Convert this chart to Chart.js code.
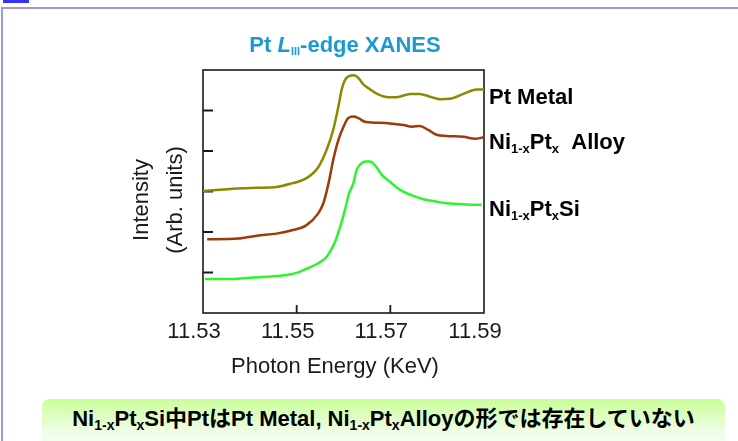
<!DOCTYPE html>
<html>
<head>
<meta charset="utf-8">
<script src="https://cdn.jsdelivr.net/npm/chart.js@4.4.1/dist/chart.umd.min.js"></script>
<style>
  html, body { margin: 0; padding: 0; background: #fff; }
  body { width: 738px; height: 441px; position: relative; overflow: hidden; font-family: "Liberation Sans", Arial, sans-serif; }
  #tab { position: absolute; left: 3px; top: 0; width: 26px; height: 3px; background: #3333ff; }
  #frame { position: absolute; left: 1px; top: 7px; width: 780px; height: 480px;
           border-top: 2px solid #9c9cd8; border-left: 2px solid #9c9cd8; }
  #wrap { position: absolute; left: 0; top: 0; width: 738px; height: 441px; }
  #note { position: absolute; left: 42px; top: 399px; width: 683px; height: 52px; border-radius: 8px;
          background: linear-gradient(#c9ff98, #eefde4 60%, #fbfff8);
          font: bold 22px "Liberation Sans", "Noto Sans CJK JP", sans-serif; color: #000;
          text-align: center; line-height: 22px; padding-top: 9px; box-sizing: border-box; white-space: nowrap; }
  #note sub { font-size: 14px; vertical-align: -4px; line-height: 0; }
</style>
</head>
<body>
<div id="tab"></div>
<div id="frame"></div>
<div id="wrap"><canvas id="c" width="738" height="441"></canvas></div>
<div id="note">Ni<sub>1-x</sub>Pt<sub>x</sub>Si中PtはPt Metal, Ni<sub>1-x</sub>Pt<sub>x</sub>Alloyの形では存在していない</div>
<script>
// Axis ticks
const energyTicks = [11.53, 11.55, 11.57, 11.59];
const intensityTicks = [0, 1, 2, 3, 4];

// Pt metal foil
const ptMetalEnergy = [11.5300, 11.5343, 11.5365, 11.5415, 11.5457, 11.5486, 11.5521, 11.5546, 11.5564, 11.5578,
  11.5589, 11.5596, 11.5603, 11.5612, 11.5622, 11.5632, 11.5642, 11.5657, 11.5674, 11.5696,
  11.5714, 11.5742, 11.5763, 11.5785, 11.5806, 11.5827, 11.5856, 11.5884, 11.5900];
const ptMetalIntensity = [2.01, 2.05, 2.07, 2.09, 2.11, 2.19, 2.33, 2.60, 3.03, 3.52,
  4.09, 4.51, 4.75, 4.85, 4.87, 4.80, 4.65, 4.52, 4.40, 4.33,
  4.33, 4.41, 4.41, 4.34, 4.28, 4.29, 4.41, 4.52, 4.52];

// Ni(1-x)Pt(x) alloy
const alloyEnergy = [11.5309, 11.5375, 11.5415, 11.5457, 11.5486, 11.5521, 11.5546, 11.5557, 11.5568, 11.5578,
  11.5589, 11.5600, 11.5610, 11.5621, 11.5632, 11.5646, 11.5667, 11.5699, 11.5728, 11.5746,
  11.5763, 11.5781, 11.5799, 11.5820, 11.5856, 11.5881, 11.5899];
const alloyIntensity = [0.82, 0.84, 0.91, 0.96, 1.03, 1.17, 1.46, 1.71, 2.20, 2.78,
  3.27, 3.60, 3.81, 3.85, 3.81, 3.72, 3.70, 3.68, 3.64, 3.60,
  3.62, 3.52, 3.40, 3.37, 3.35, 3.30, 3.34];

// Ni(1-x)Pt(x)Si silicide
const silicideEnergy = [11.5304, 11.5365, 11.5400, 11.5443, 11.5479, 11.5500, 11.5521, 11.5543, 11.5561, 11.5571,
  11.5582, 11.5593, 11.5603, 11.5612, 11.5621, 11.5628, 11.5637, 11.5646, 11.5657, 11.5667,
  11.5682, 11.5699, 11.5721, 11.5749, 11.5770, 11.5799, 11.5820, 11.5863, 11.5895];
const silicideIntensity = [-0.16, -0.16, -0.13, -0.10, -0.06, -0.01, 0.09, 0.21, 0.35, 0.51,
  0.76, 1.13, 1.54, 1.96, 2.20, 2.53, 2.68, 2.74, 2.74, 2.65,
  2.41, 2.24, 2.04, 1.89, 1.81, 1.75, 1.71, 1.68, 1.67];

// Curve names shown at the right edge, with the intensity level they sit at
const seriesNames = ['Pt Metal', 'Ni1-xPtx Alloy', 'Ni1-xPtxSi'];
const seriesLabelLevels = [4.36, 3.25, 1.59];
const seriesColors = ['#8a8a00', '#9e3a0a', '#2cf52c'];

const toPoints = (xs, ys) => xs.map((x, i) => ({ x, y: ys[i] }));

const BIG = 'bold 22px "Liberation Sans", Arial, sans-serif';
const SUB = 'bold 13px "Liberation Sans", Arial, sans-serif';

// Rich-text runs for the curve names (subscripts drawn smaller and lower)
const labelRuns = [
  [{ t: 'Pt Metal', f: BIG }],
  [{ t: 'Ni', f: BIG }, { t: '1-x', f: SUB, dy: 4 }, { t: 'Pt', f: BIG }, { t: 'x', f: SUB, dy: 4 }, { t: '  Alloy', f: BIG }],
  [{ t: 'Ni', f: BIG }, { t: '1-x', f: SUB, dy: 4 }, { t: 'Pt', f: BIG }, { t: 'x', f: SUB, dy: 4 }, { t: 'Si', f: BIG }]
];

function drawRuns(ctx, runs, x, base, align) {
  let w = 0;
  runs.forEach(r => { ctx.font = r.f; r.w = ctx.measureText(r.t).width; w += r.w; });
  let cx = align === 'center' ? x - w / 2 : x;
  ctx.textAlign = 'left';
  ctx.textBaseline = 'alphabetic';
  runs.forEach(r => { ctx.font = r.f; ctx.fillText(r.t, cx, base + (r.dy || 0)); cx += r.w; });
}

const decor = {
  id: 'decor',
  beforeDatasetsDraw(chart) {
    const { ctx, chartArea: a, scales: { x, y } } = chart;
    ctx.save();
    ctx.strokeStyle = '#1a1a1a';
    ctx.lineWidth = 1.6;
    ctx.strokeRect(a.left, a.top, a.right - a.left, a.bottom - a.top);
    ctx.lineWidth = 1.8;
    ctx.beginPath();
    intensityTicks.forEach(v => {
      const py = y.getPixelForValue(v);
      ctx.moveTo(a.left, py); ctx.lineTo(a.left + 10, py);
    });
    energyTicks.slice(1, -1).forEach(v => {
      const px = x.getPixelForValue(v);
      ctx.moveTo(px, a.bottom); ctx.lineTo(px, a.bottom - 8);
    });
    ctx.stroke();
    ctx.restore();
  },
  afterDraw(chart) {
    const { ctx, chartArea: a, scales: { y } } = chart;
    ctx.save();
    // Title
    ctx.fillStyle = '#1b9ad2';
    drawRuns(ctx, [
      { t: 'Pt ', f: BIG },
      { t: 'L', f: 'italic bold 22px "Liberation Sans", Arial, sans-serif' },
      { t: 'III', f: 'bold 11px "Liberation Sans", Arial, sans-serif', dy: 3 },
      { t: '-edge XANES', f: BIG }
    ], 345, 52, 'center');

    // Curve names
    ctx.fillStyle = '#000';
    labelRuns.forEach((runs, i) => {
      drawRuns(ctx, runs, a.right + 5, y.getPixelForValue(seriesLabelLevels[i]) + 8, 'left');
    });

    // Axis titles
    ctx.fillStyle = '#1a1a1a';
    ctx.font = '22px "Liberation Sans", Arial, sans-serif';
    ctx.textAlign = 'center';
    ctx.textBaseline = 'alphabetic';
    ctx.fillText('Photon Energy (KeV)', 335, 373);
    ctx.translate(0, 200);
    ctx.rotate(-Math.PI / 2);
    ctx.fillText('Intensity', 0, 148);
    ctx.fillText('(Arb. units)', 0, 182);
    ctx.restore();
  }
};

const mkSet = (label, xs, ys, color) => ({
  label, data: toPoints(xs, ys), borderColor: color, backgroundColor: color,
  borderWidth: 2.5, pointRadius: 0, cubicInterpolationMode: 'monotone', fill: false
});

new Chart(document.getElementById('c'), {
  type: 'line',
  data: {
    datasets: [
      mkSet(seriesNames[0], ptMetalEnergy, ptMetalIntensity, seriesColors[0]),
      mkSet(seriesNames[1], alloyEnergy, alloyIntensity, seriesColors[1]),
      mkSet(seriesNames[2], silicideEnergy, silicideIntensity, seriesColors[2])
    ]
  },
  options: {
    responsive: false,
    animation: false,
    events: [],
    layout: { padding: { top: 70, right: 254, left: 0, bottom: 0 } },
    plugins: { legend: { display: false }, tooltip: { enabled: false } },
    scales: {
      x: {
        type: 'linear',
        min: energyTicks[0],
        max: energyTicks[energyTicks.length - 1],
        afterBuildTicks: s => { s.ticks = energyTicks.map(v => ({ value: v })); },
        afterFit: s => { s.height = 128; },
        grid: { display: false, drawTicks: false },
        border: { display: false },
        ticks: {
          font: { family: '"Liberation Sans", Arial, sans-serif', size: 22 },
          color: '#1a1a1a',
          padding: 6,
          labelOffset: -9,
          maxRotation: 0,
          autoSkip: false,
          callback: v => Number(v).toFixed(2)
        }
      },
      y: {
        type: 'linear',
        min: -1,
        max: 5,
        afterFit: s => { s.width = 203; },
        grid: { display: false, drawTicks: false },
        border: { display: false },
        ticks: { display: false }
      }
    }
  },
  plugins: [decor]
});
</script>
</body>
</html>
